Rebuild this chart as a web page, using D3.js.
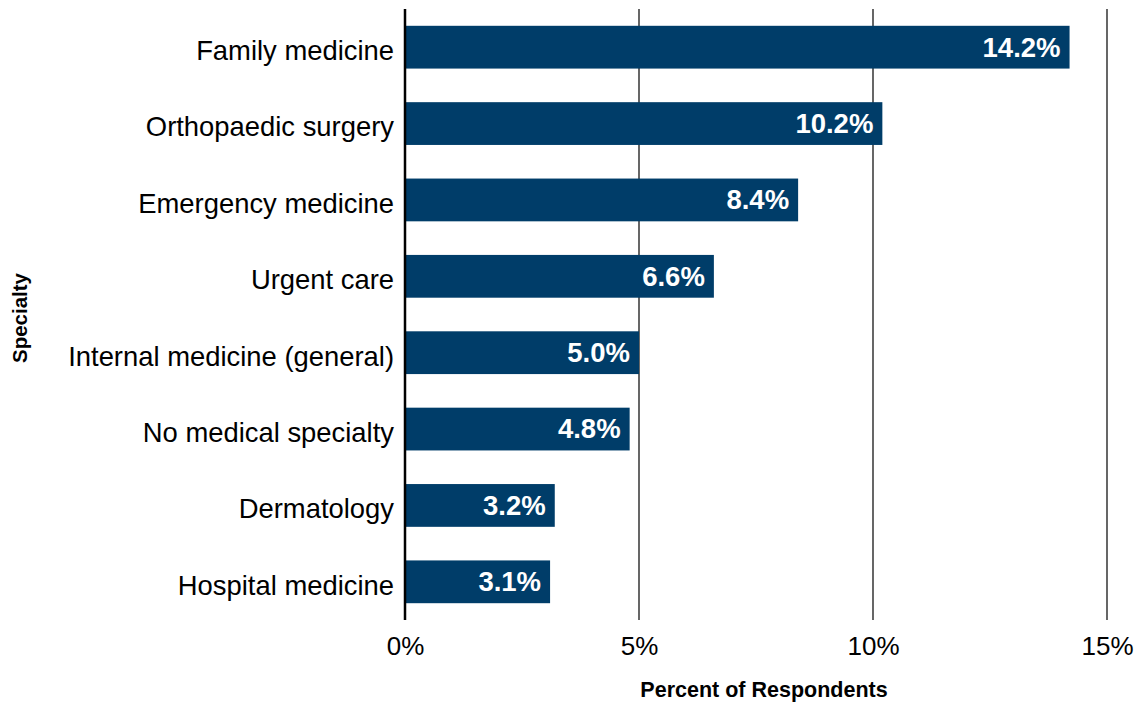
<!DOCTYPE html>
<meta charset="utf-8">
<style>
	body { margin: 0; background: #fff; }
	text { font-family: "Liberation Sans", Arial, sans-serif; }
</style>
<svg width="1137" height="704"></svg>
<script src="https://cdn.jsdelivr.net/npm/d3@7"></script>
<script>
	var categories = ['Family medicine', 'Orthopaedic surgery', 'Emergency medicine', 'Urgent care',
		'Internal medicine (general)', 'No medical specialty', 'Dermatology', 'Hospital medicine']
	var values = [14.2, 10.2, 8.4, 6.6, 5.0, 4.8, 3.2, 3.1]
	var ticks = [0, 5, 10, 15]

	var svg = d3.select('svg'),
		margin = { top: 9, right: 30, bottom: 84, left: 405 },
		width = 1107 - margin.left,
		height = 620 - margin.top,
		g = svg.append('g').attr('transform', 'translate(' + margin.left + ',' + margin.top + ')')

	var x = d3.scaleLinear().domain([0, 15]).range([0, width]),
		y = d3.scaleBand().domain(categories).range([0, height]).paddingInner(0.44).paddingOuter(0.22)

	// gridlines
	g.selectAll('.grid')
		.data(ticks.slice(1))
		.enter().append('line')
		.attr('class', 'grid')
		.attr('x1', d => x(d)).attr('x2', d => x(d))
		.attr('y1', 0).attr('y2', height)
		.attr('stroke', '#000').attr('stroke-width', 1.2)

	// x tick labels
	var xAxis = g.append('g')
		.attr('transform', 'translate(0,' + height + ')')
		.call(d3.axisBottom(x).tickValues(ticks).tickSize(0).tickPadding(17).tickFormat(d => d + '%'))
	xAxis.select('.domain').remove()
	xAxis.selectAll('text').attr('font-size', 26).attr('fill', '#000')
		.style('font-family', '"Liberation Sans", Arial, sans-serif')

	// bars
	g.selectAll('.bar')
		.data(values)
		.enter().append('rect')
		.attr('class', 'bar')
		.attr('x', 0)
		.attr('y', (d, i) => y(categories[i]))
		.attr('width', d => x(d))
		.attr('height', y.bandwidth())
		.attr('fill', '#003d69')

	// value labels
	g.selectAll('.val')
		.data(values)
		.enter().append('text')
		.attr('class', 'val')
		.attr('x', d => x(d) - 9)
		.attr('y', (d, i) => y(categories[i]) + y.bandwidth() / 2)
		.attr('dy', '0.34em')
		.attr('text-anchor', 'end')
		.attr('font-size', 27.5)
		.attr('font-weight', 'bold')
		.attr('fill', '#fff')
		.text(d => d.toFixed(1) + '%')

	// y axis labels
	var yAxis = g.append('g')
		.call(d3.axisLeft(y).tickSize(0).tickPadding(11))
	yAxis.select('.domain').remove()
	yAxis.selectAll('text').attr('font-size', 27.4).attr('fill', '#000').attr('dy', '0.47em')
		.style('font-family', '"Liberation Sans", Arial, sans-serif')

	// axis line at zero
	g.append('line')
		.attr('x1', 0).attr('x2', 0)
		.attr('y1', 0).attr('y2', height)
		.attr('stroke', '#000').attr('stroke-width', 2.5)

	// axis titles
	svg.append('text')
		.attr('x', 764).attr('y', 697)
		.attr('text-anchor', 'middle')
		.attr('font-size', 21.5).attr('font-weight', 'bold')
		.text('Percent of Respondents')

	svg.append('text')
		.attr('transform', 'translate(27,318) rotate(-90)')
		.attr('text-anchor', 'middle')
		.attr('font-size', 20.5).attr('font-weight', 'bold')
		.text('Specialty')
</script>
